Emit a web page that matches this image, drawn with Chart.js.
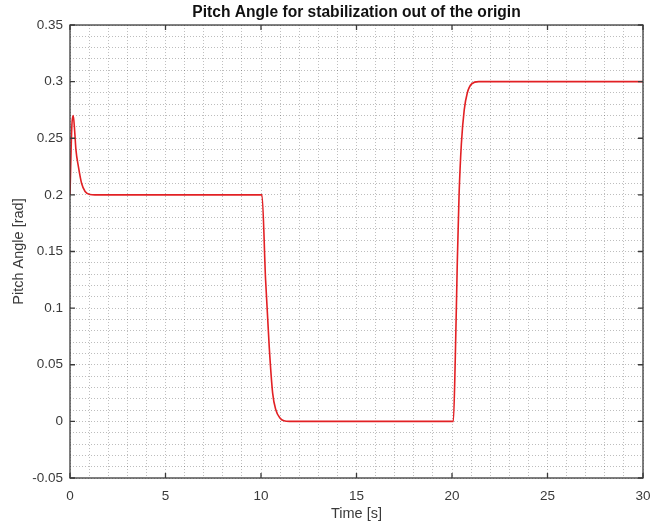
<!DOCTYPE html>
<html>
<head>
<meta charset="utf-8">
<script src="https://cdn.jsdelivr.net/npm/chart.js@4"></script>
<style>
html,body{margin:0;padding:0;background:#fff;}
#c{display:block;}
</style>
</head>
<body>
<canvas id="c" width="654" height="526"></canvas>
<script>
// ---- data ----
const time  = [0, 0.05, 0.1, 0.17, 0.25, 0.31, 0.44, 0.61, 0.79, 1.05, 1.3,
               10.05, 10.24, 10.43, 10.61, 10.78, 10.99, 11.2, 11.5,
               20.07, 20.17, 20.28, 20.37, 20.49, 20.64, 20.8, 21.03, 21.4, 22, 30];
const pitch = [0.2, 0.235, 0.262, 0.27, 0.255, 0.24, 0.225, 0.21, 0.203, 0.2003, 0.2,
               0.2, 0.125, 0.066, 0.025, 0.01, 0.003, 0.0005, 0,
               0, 0.054, 0.1425, 0.2, 0.245, 0.275, 0.29, 0.298, 0.3, 0.3, 0.3];
const xMajorTicks = [0, 5, 10, 15, 20, 25, 30];
const yMajorTicks = [-0.05, 0, 0.05, 0.1, 0.15, 0.2, 0.25, 0.3, 0.35];
const titleText = 'Pitch Angle for stabilization out of the origin';
const xLabel = 'Time [s]';
const yLabel = 'Pitch Angle [rad]';

const points = time.map((t, i) => ({x: t, y: pitch[i]}));
const FONT = '"Liberation Sans", Arial, Helvetica, sans-serif';
const TXT = '#3a3a3a';

const boxPlugin = {
  id: 'boxPlugin',
  afterDraw(chart) {
    const {ctx, chartArea: a, scales} = chart;
    ctx.save();
    ctx.strokeStyle = '#3a3a3a';
    ctx.lineWidth = 1.3;
    ctx.strokeRect(a.left, a.top, a.right - a.left, a.bottom - a.top);
    const L = 5;
    ctx.beginPath();
    xMajorTicks.forEach(v => {
      const px = scales.x.getPixelForValue(v);
      ctx.moveTo(px, a.bottom); ctx.lineTo(px, a.bottom - L);
      ctx.moveTo(px, a.top); ctx.lineTo(px, a.top + L);
    });
    yMajorTicks.forEach(v => {
      const py = scales.y.getPixelForValue(v);
      ctx.moveTo(a.left, py); ctx.lineTo(a.left + L, py);
      ctx.moveTo(a.right, py); ctx.lineTo(a.right - L, py);
    });
    ctx.stroke();
    ctx.restore();
  }
};

function isMajor(v, step) {
  const r = v / step;
  return Math.abs(r - Math.round(r)) < 1e-6;
}

new Chart(document.getElementById('c'), {
  type: 'line',
  data: {
    datasets: [{
      data: points,
      borderColor: 'rgb(226,32,36)',
      borderWidth: 1.6,
      pointRadius: 0,
      fill: false,
      cubicInterpolationMode: 'monotone'
    }]
  },
  plugins: [boxPlugin],
  options: {
    responsive: false,
    animation: false,
    devicePixelRatio: 1,
    layout: {padding: {left: 0, right: 11, top: 0, bottom: 0}},
    plugins: {
      legend: {display: false},
      tooltip: {enabled: false},
      title: {
        display: true,
        fullSize: false,
        text: titleText,
        color: '#111',
        font: {family: FONT, size: 15.6, weight: 'bold'},
        padding: {top: 3.5, bottom: 2.8}
      }
    },
    scales: {
      x: {
        type: 'linear',
        min: 0, max: 30,
        grid: {
          drawTicks: false,
          color: 'rgba(0,0,0,0.26)',
          lineWidth: 1
        },
        border: {display: false, dash: [1, 2]},
        ticks: {
          stepSize: 1,
          autoSkip: false,
          maxRotation: 0,
          padding: 10,
          color: TXT,
          font: {family: FONT, size: 13.5},
          callback: v => isMajor(v, 5) ? String(v) : ''
        },
        title: {
          display: true,
          text: xLabel,
          color: TXT,
          font: {family: FONT, size: 14.5},
          padding: {top: 0, bottom: 3}
        },
        afterFit: s => { s.height = 48; s.paddingRight = 11; s.paddingLeft = 0; }
      },
      y: {
        type: 'linear',
        min: -0.05, max: 0.35,
        grid: {
          drawTicks: false,
          color: 'rgba(0,0,0,0.26)',
          lineWidth: 1
        },
        border: {display: false, dash: [1, 2]},
        ticks: {
          stepSize: 0.01,
          maxTicksLimit: 100,
          autoSkip: false,
          padding: 7,
          color: TXT,
          font: {family: FONT, size: 13.5},
          callback: v => isMajor(v, 0.05) ? String(parseFloat(v.toFixed(2))) : ''
        },
        title: {
          display: true,
          text: yLabel,
          color: TXT,
          font: {family: FONT, size: 14.5},
          padding: {top: 10, bottom: 0}
        },
        afterFit: s => { s.width = 70; s.paddingTop = 0; s.paddingBottom = 0; }
      }
    }
  }
});
</script>
</body>
</html>
